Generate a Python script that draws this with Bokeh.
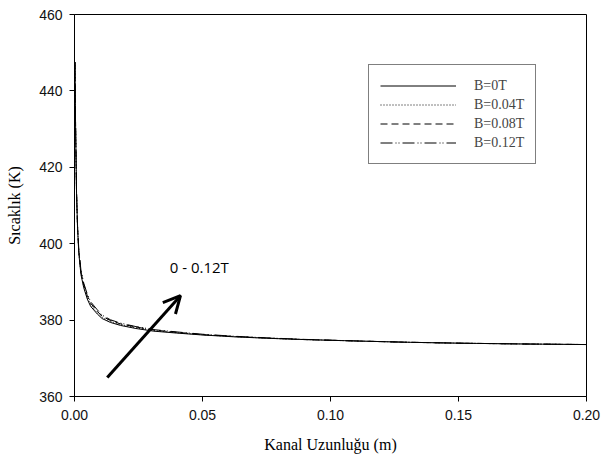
from bokeh.plotting import figure
from bokeh.models import (Legend, LegendItem, Arrow, OpenHead, FixedTicker,
                          NumeralTickFormatter, Label)
from bokeh.embed import file_html
from bokeh.resources import INLINE

# Channel length (m) and temperature (K) for each magnetic field strength
kanal_x = [0.0002, 0.0004, 0.0008, 0.0012, 0.0017, 0.0025, 0.0036, 0.005, 0.0063,
           0.0089, 0.0108, 0.014, 0.018, 0.024, 0.031, 0.04, 0.05, 0.063, 0.077,
           0.09, 0.112, 0.13, 0.151, 0.175, 0.2]
sicaklik_b0 = [447.5, 432.0, 413.0, 404.0, 397.4, 392.0, 388.5, 385.5, 383.6,
               381.6, 380.4, 379.4, 378.6, 377.8, 377.1, 376.6, 376.1, 375.6, 375.2,
               374.9, 374.5, 374.2, 373.95, 373.75, 373.6]
sicaklik_b004 = [447.5, 432.0, 413.0, 404.2, 397.7, 392.4, 388.9, 386.0, 384.0,
                 381.9, 380.7, 379.7, 378.8, 378.0, 377.25, 376.7, 376.15, 375.65, 375.2,
                 374.9, 374.5, 374.2, 373.95, 373.75, 373.6]
sicaklik_b008 = [447.5, 432.0, 413.2, 404.4, 398.0, 392.8, 389.3, 386.4, 384.4,
                 382.3, 381.0, 379.9, 379.0, 378.2, 377.4, 376.8, 376.2, 375.7, 375.25,
                 374.9, 374.5, 374.2, 373.95, 373.75, 373.6]
sicaklik_b012 = [447.5, 432.0, 413.4, 404.6, 398.3, 393.2, 389.7, 386.8, 384.8,
                 382.7, 381.3, 380.1, 379.2, 378.3, 377.5, 376.9, 376.3, 375.75, 375.3,
                 374.95, 374.5, 374.2, 373.95, 373.75, 373.6]

seri_etiketleri = ["B=0T", "B=0.04T", "B=0.08T", "B=0.12T"]
seri_cizgileri = ["solid", "1 2", "7 4", "12 3 1 2 1 3"]

x_ticks = [0.0, 0.05, 0.10, 0.15, 0.20]
y_ticks = [360, 380, 400, 420, 440, 460]

# Arrow showing the direction of increasing field, and its caption
ok_bas = (0.0128, 365.0)
ok_uc = (0.0414, 386.4)
ok_yazi = "0 - 0.12T"
ok_yazi_konum = (0.0372, 391.3)

p = figure(width=602, height=463, output_backend="svg", toolbar_location=None,
           x_range=(0.0, 0.2), y_range=(360, 460),
           min_border_left=74, min_border_right=16, min_border_top=14,
           min_border_bottom=67)
p.grid.visible = False
p.outline_line_color = "black"
p.outline_line_width = 1
p.background_fill_color = "white"
p.border_fill_color = "white"

p.xaxis.ticker = FixedTicker(ticks=x_ticks)
p.yaxis.ticker = FixedTicker(ticks=y_ticks)
p.xaxis.formatter = NumeralTickFormatter(format="0.00")
p.xaxis.axis_label = "Kanal Uzunluğu (m)"
p.yaxis.axis_label = "Sıcaklık (K)"
for ax in (p.xaxis, p.yaxis):
    ax.axis_line_color = "black"
    ax.major_tick_line_color = "black"
    ax.major_tick_out = 5
    ax.major_tick_in = 0
    ax.minor_tick_line_color = None
    ax.major_label_text_font = "Liberation Sans"
    ax.major_label_text_font_size = "14px"
    ax.major_label_text_color = "#111111"
    ax.axis_label_text_font = "Liberation Serif"
    ax.axis_label_text_font_size = "16px"
    ax.axis_label_text_font_style = "normal"
    ax.axis_label_text_color = "black"
p.xaxis.major_label_standoff = 8
p.xaxis.axis_label_standoff = 13
p.yaxis.major_label_standoff = 7
p.yaxis.axis_label_standoff = 13

items = []
for seri, etiket, dash in zip([sicaklik_b0, sicaklik_b004, sicaklik_b008, sicaklik_b012],
                              seri_etiketleri, seri_cizgileri):
    r = p.line(kanal_x, seri, line_color="black", line_width=1, line_dash=dash)
    items.append(LegendItem(label=etiket, renderers=[r]))

legend = Legend(items=items, location=(294, 232), border_line_color="black",
                border_line_width=1, background_fill_alpha=1.0, padding=11,
                spacing=0, glyph_width=76, glyph_height=19, label_height=19,
                label_standoff=18, label_text_font="Liberation Serif",
                label_text_font_size="14px", margin=0)
p.add_layout(legend)

p.add_layout(Arrow(x_start=ok_bas[0], y_start=ok_bas[1], x_end=ok_uc[0], y_end=ok_uc[1],
                   line_width=3, line_color="black",
                   end=OpenHead(size=17, line_width=3, line_color="black")))
p.add_layout(Label(x=ok_yazi_konum[0], y=ok_yazi_konum[1], text=ok_yazi,
                   text_font="Open Sans", text_font_size="15px",
                   text_color="black", text_baseline="bottom"))

open("out.html", "w").write(file_html(p, INLINE))
